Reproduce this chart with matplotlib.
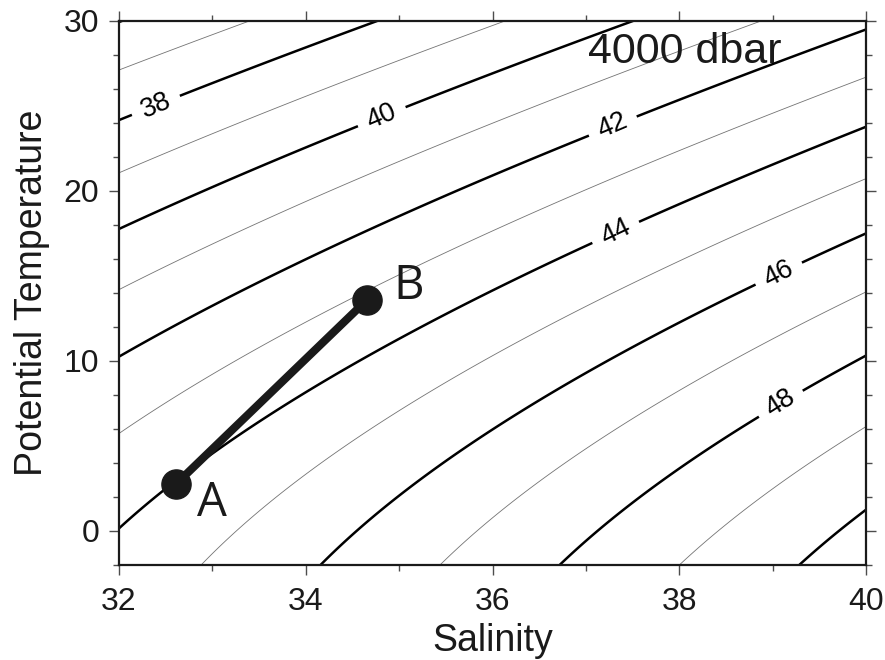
import numpy as np
import matplotlib
matplotlib.use('Agg')
import matplotlib.pyplot as plt
from matplotlib.ticker import MultipleLocator

# sigma_4 contour crossings
# left edge, S = 32
left_T = [27.06, 24.2, 21.06, 17.8, 14.2, 10.2, 5.76, 0.24]
left_sig = [37, 38, 39, 40, 41, 42, 43, 44]
# right edge, S = 40
right_T = [29.5, 26.6, 23.8, 20.8, 17.5, 14.06, 10.3, 6.1, 1.3]
right_sig = [42, 43, 44, 45, 46, 47, 48, 49, 50]
# top edge, theta = 30
top_S = [33.38, 34.77, 36.13, 37.50, 38.86]
top_sig = [37, 38, 39, 40, 41]
# bottom edge, theta = -2
bot_S = [32.885, 34.16, 35.45, 36.72, 38.0, 39.28]
bot_sig = [45, 46, 47, 48, 49, 50]

thin_levels = [37, 39, 41, 43, 45, 47, 49, 51]
thick_levels = [36, 50, 52]
label_levels = [38, 40, 42, 44, 46, 48]

# the two water parcels
pt_name = ['A', 'B']
pt_S = [32.61, 34.655]
pt_T = [2.76, 13.59]

# fit a smooth sigma_4(S, theta) surface through the edge readings
S_obs = np.array([32.0]*len(left_T) + [40.0]*len(right_T) + top_S + bot_S)
T_obs = np.array(left_T + right_T + [30.0]*len(top_S) + [-2.0]*len(bot_S))
sig_obs = np.array(left_sig + right_sig + top_sig + bot_sig, dtype=float)

def design(S, T):
    s = S - 35.0
    return np.stack([np.ones_like(T), T, T**2, T**3, s, s*T, s*T**2, s**2], axis=-1)

coef = np.linalg.lstsq(design(S_obs, T_obs), sig_obs, rcond=None)[0]

S = np.linspace(31.5, 40.5, 300)
T = np.linspace(-3, 31, 300)
SS, TT = np.meshgrid(S, T)
sig = design(SS, TT) @ coef

plt.rcParams['font.family'] = ['Liberation Sans', 'DejaVu Sans']

fig = plt.figure(figsize=(8.85, 6.6), dpi=100)
ax = fig.add_axes([119/885, 1-565/660, (866-119)/885, (565-21)/660])

ax.contour(SS, TT, sig, levels=thin_levels, colors='0.45', linewidths=0.6)
ax.contour(SS, TT, sig, levels=thick_levels, colors='k', linewidths=1.8)
cs = ax.contour(SS, TT, sig, levels=label_levels, colors='k', linewidths=1.8)
ax.clabel(cs, fmt='%d', fontsize=19.5, inline_spacing=8,
          manual=[(32.39, 25.1), (34.82, 24.3), (37.29, 23.8),
                  (37.33, 17.45), (39.06, 15.2), (39.08, 7.55)])

ax.plot(pt_S, pt_T, color='#1a1a1a', lw=5.8, solid_capstyle='butt', zorder=5)
ax.plot(pt_S, pt_T, 'o', color='#1a1a1a', ms=21, zorder=6)
offsets = [(26, -14), (30, 10)]
for n, s, t, off in zip(pt_name, pt_S, pt_T, offsets):
    ax.annotate(n, (s, t), xytext=off, textcoords='offset points',
                ha='center', va='center', fontsize=34, family='Open Sans',
                color='#1a1a1a')

ax.text(38.06, 28.2, '4000 dbar', ha='center', va='center', fontsize=31,
        color='#1a1a1a')

ax.set_xlim(32, 40)
ax.set_ylim(-2, 30)
ax.xaxis.set_major_locator(MultipleLocator(2))
ax.xaxis.set_minor_locator(MultipleLocator(1))
ax.yaxis.set_major_locator(MultipleLocator(10))
ax.yaxis.set_minor_locator(MultipleLocator(2))
ax.tick_params(which='both', direction='out', top=True, right=True,
               labelsize=23, width=1, color='0.3', labelcolor='#1a1a1a')
ax.tick_params(axis='x', which='major', length=7.2, pad=9)
ax.tick_params(axis='y', which='major', length=7.2, pad=7)
ax.tick_params(which='minor', length=4.3)
for sp in ax.spines.values():
    sp.set_linewidth(1.6)
    sp.set_color('#1a1a1a')

ax.set_xlabel('Salinity', fontsize=27, color='#1a1a1a', labelpad=4)
ax.set_ylabel('Potential Temperature', fontsize=27, color='#1a1a1a', labelpad=10)

fig.savefig('out.png', dpi=100)
